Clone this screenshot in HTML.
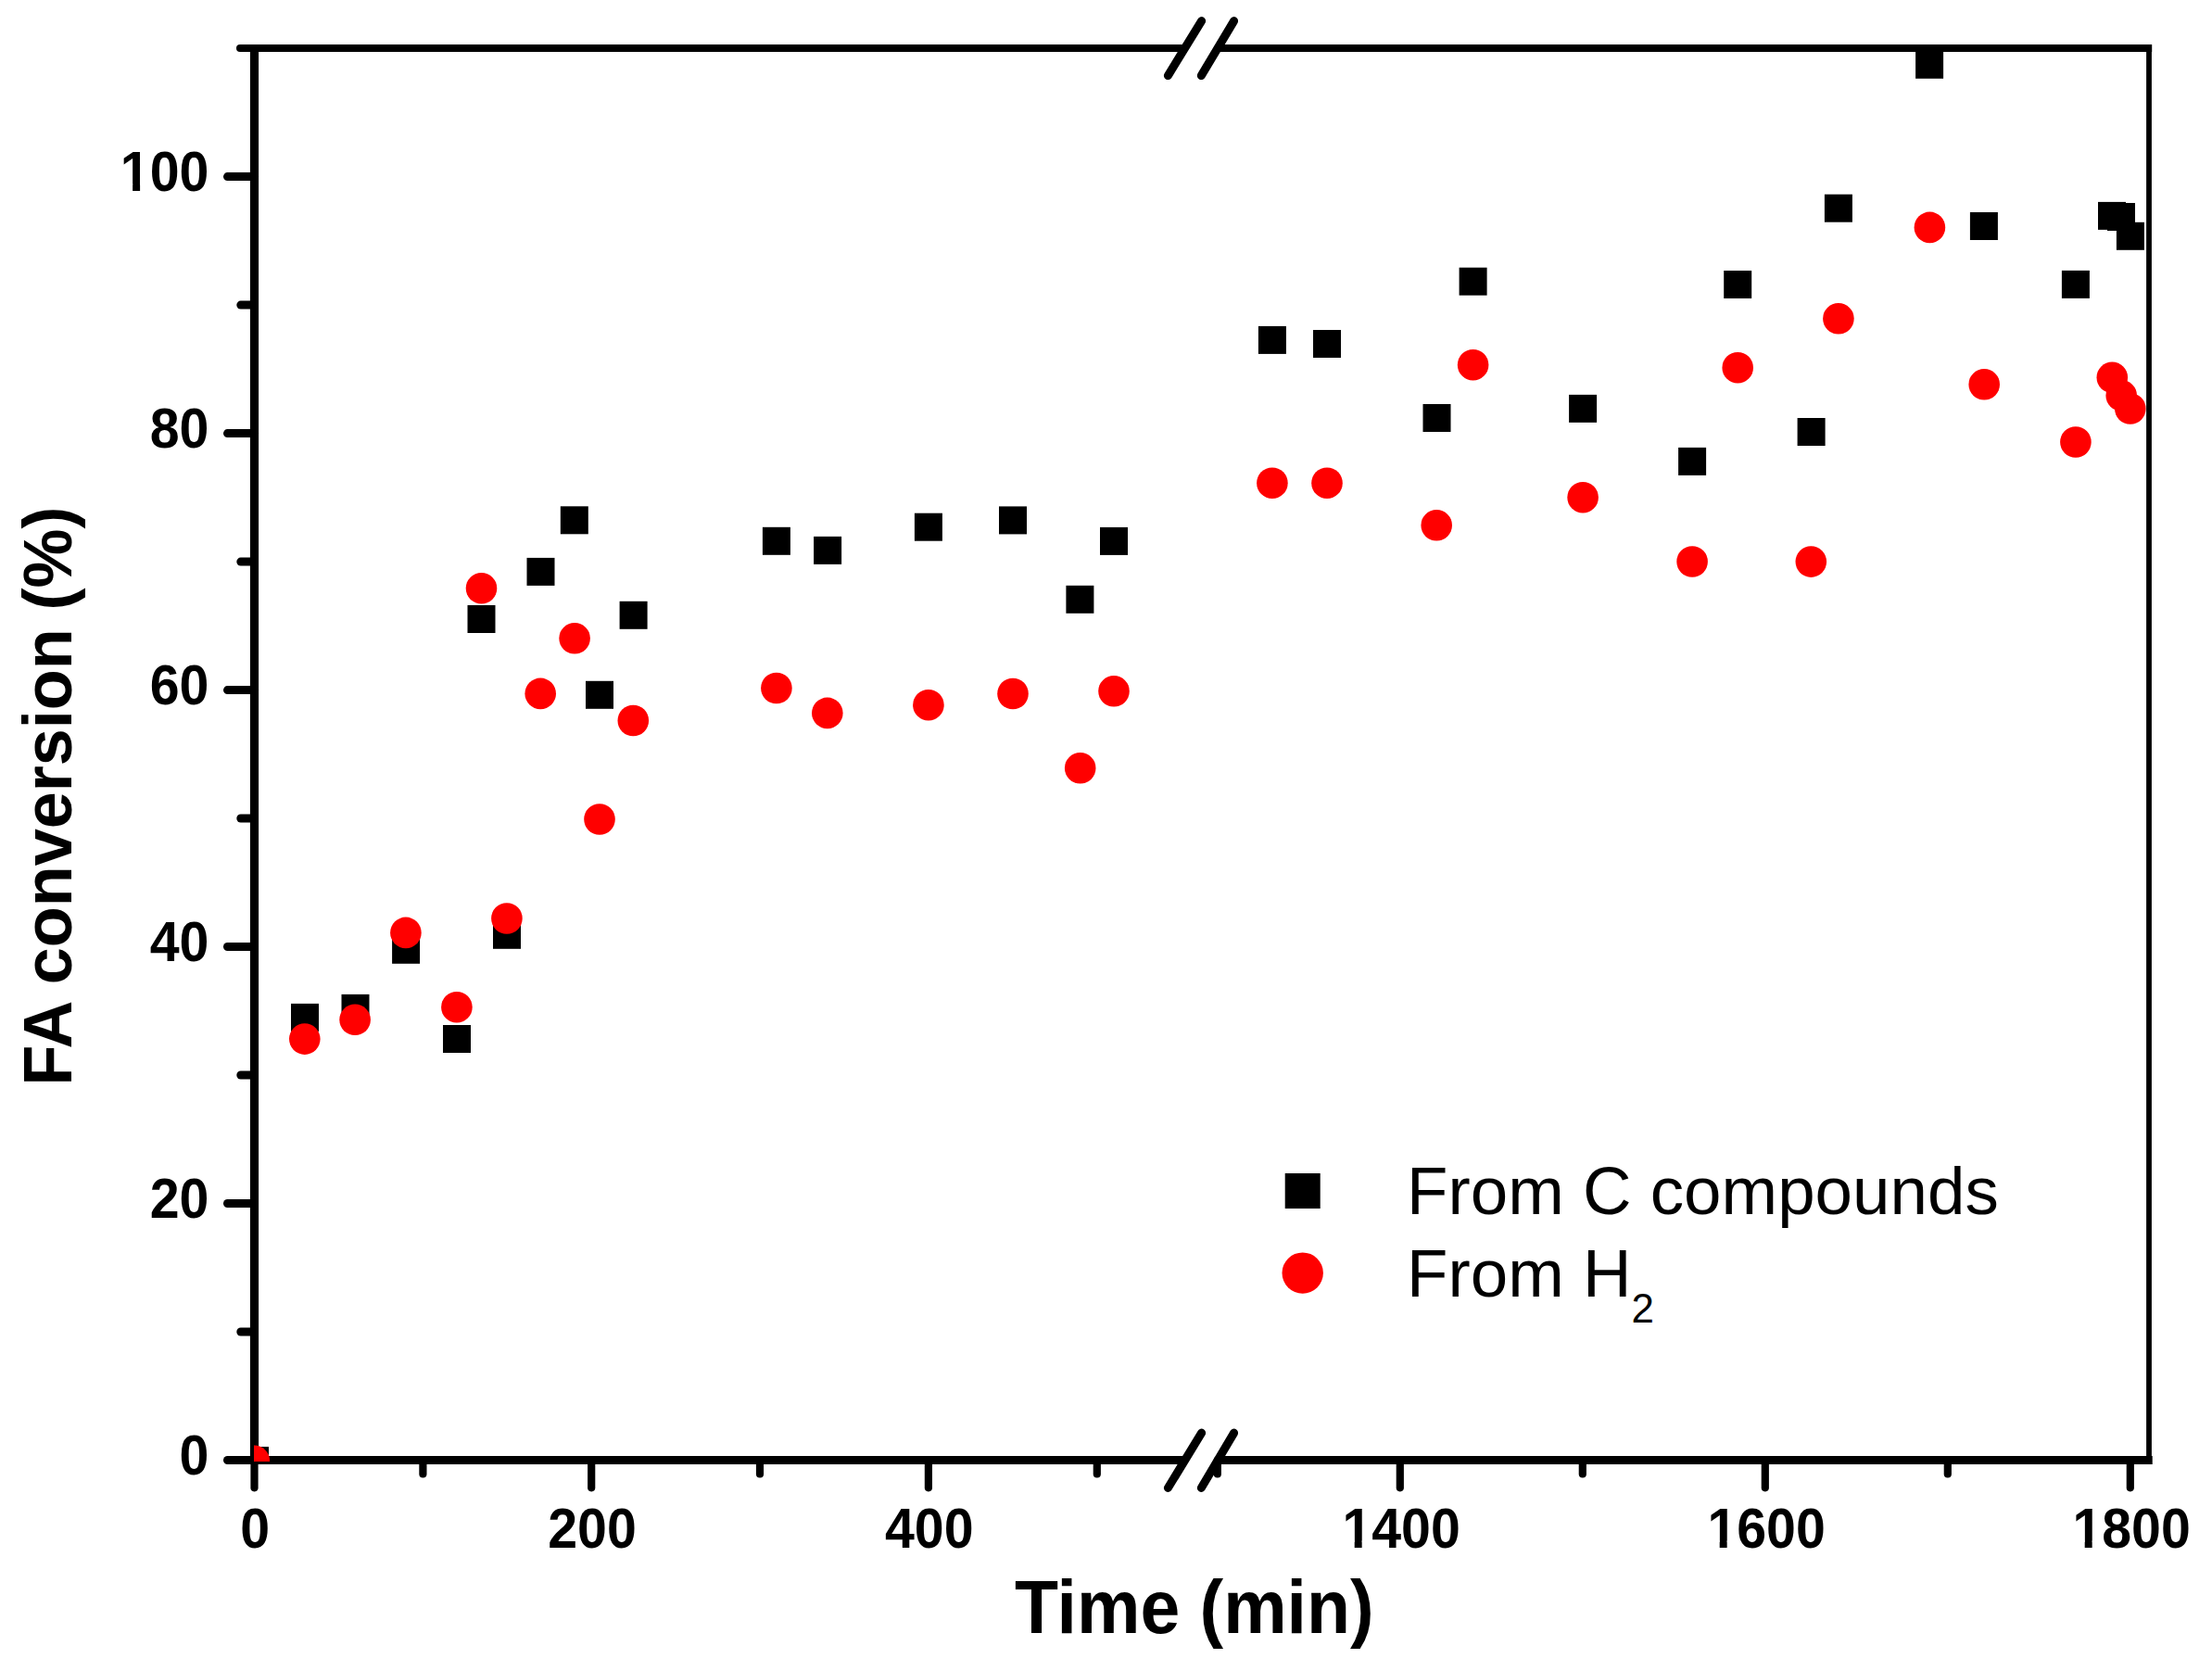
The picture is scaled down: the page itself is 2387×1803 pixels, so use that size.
<!DOCTYPE html>
<html lang="en"><head><meta charset="utf-8"><title>FA conversion vs time</title>
<style>html,body{margin:0;padding:0;background:#fff}body{width:2387px;height:1803px;overflow:hidden}svg{display:block}</style>
</head><body>
<svg width="2387" height="1803" viewBox="0 0 2387 1803">
<rect width="2387" height="1803" fill="#fff"/>
<g stroke="#000" stroke-linecap="round" fill="none">
<g stroke-width="9">
<line x1="245.5" y1="1575.5" x2="274.5" y2="1575.5"/>
<line x1="245.5" y1="1298.5" x2="274.5" y2="1298.5"/>
<line x1="245.5" y1="1021.5" x2="274.5" y2="1021.5"/>
<line x1="245.5" y1="744.6" x2="274.5" y2="744.6"/>
<line x1="245.5" y1="467.6" x2="274.5" y2="467.6"/>
<line x1="245.5" y1="190.6" x2="274.5" y2="190.6"/>
<line x1="259.8" y1="1437.0" x2="274.5" y2="1437.0"/>
<line x1="259.8" y1="1160.0" x2="274.5" y2="1160.0"/>
<line x1="259.8" y1="883.0" x2="274.5" y2="883.0"/>
<line x1="259.8" y1="606.1" x2="274.5" y2="606.1"/>
<line x1="259.8" y1="329.1" x2="274.5" y2="329.1"/>
<g stroke-width="8.2">
<line x1="274.5" y1="1575.5" x2="274.5" y2="1605.3"/>
<line x1="638.2" y1="1575.5" x2="638.2" y2="1605.3"/>
<line x1="1001.9" y1="1575.5" x2="1001.9" y2="1605.3"/>
<line x1="456.4" y1="1575.5" x2="456.4" y2="1590.5"/>
<line x1="820.0" y1="1575.5" x2="820.0" y2="1590.5"/>
<line x1="1183.8" y1="1575.5" x2="1183.8" y2="1590.5"/>
<line x1="1510.8" y1="1575.5" x2="1510.8" y2="1605.3"/>
<line x1="1904.8" y1="1575.5" x2="1904.8" y2="1605.3"/>
<line x1="2298.8" y1="1575.5" x2="2298.8" y2="1605.3"/>
<line x1="1313.8" y1="1575.5" x2="1313.8" y2="1590.5"/>
<line x1="1707.8" y1="1575.5" x2="1707.8" y2="1590.5"/>
<line x1="2101.8" y1="1575.5" x2="2101.8" y2="1590.5"/>
</g>
<line x1="1260.4" y1="81.6" x2="1296.6" y2="22.6"/>
<line x1="1296.3" y1="81.6" x2="1331.6" y2="22.6"/>
<line x1="1260.4" y1="1605.5" x2="1296.6" y2="1546.1"/>
<line x1="1296.3" y1="1605.5" x2="1331.6" y2="1546.1"/>
</g>
<g stroke-linecap="butt">
<line x1="274.5" y1="52.0" x2="274.5" y2="1575.5" stroke-width="9.2"/>
<line x1="274.5" y1="1575.5" x2="1278.6" y2="1575.5" stroke-width="8.8"/>
<line x1="1314" y1="1575.5" x2="2322.7" y2="1575.5" stroke-width="8.8"/>
<line x1="259" y1="52.0" x2="1278.6" y2="52.0" stroke-width="8"/>
<line x1="1314" y1="52.0" x2="2322.2" y2="52.0" stroke-width="8"/>
<line x1="2319.0" y1="52.0" x2="2319.0" y2="1575.5" stroke-width="5.8"/>
</g>
<circle cx="259" cy="52.0" r="4" fill="#000" stroke="none"/>
</g>
<clipPath id="pc"><rect x="274" y="40" width="2046" height="1537"/></clipPath>
<g clip-path="url(#pc)">
<g fill="#000">
<rect x="260.0" y="1561.0" width="30" height="30"/>
<rect x="314.0" y="1082.9" width="30" height="30"/>
<rect x="368.5" y="1072.9" width="30" height="30"/>
<rect x="423.1" y="1009.8" width="30" height="30"/>
<rect x="478.0" y="1106.0" width="30" height="30"/>
<rect x="504.5" y="653.0" width="30" height="30"/>
<rect x="532.0" y="993.8" width="30" height="30"/>
<rect x="568.5" y="601.9" width="30" height="30"/>
<rect x="604.8" y="546.3" width="30" height="30"/>
<rect x="632.0" y="734.8" width="30" height="30"/>
<rect x="668.6" y="648.8" width="30" height="30"/>
<rect x="822.9" y="568.8" width="30" height="30"/>
<rect x="878.1" y="578.9" width="30" height="30"/>
<rect x="986.9" y="553.7" width="30" height="30"/>
<rect x="1078.0" y="546.4" width="30" height="30"/>
<rect x="1150.4" y="631.8" width="30" height="30"/>
<rect x="1187.0" y="568.9" width="30" height="30"/>
<rect x="1357.9" y="351.9" width="30" height="30"/>
<rect x="1417.0" y="356.0" width="30" height="30"/>
<rect x="1535.5" y="436.0" width="30" height="30"/>
<rect x="1574.6" y="288.7" width="30" height="30"/>
<rect x="1693.1" y="425.9" width="30" height="30"/>
<rect x="1811.1" y="482.9" width="30" height="30"/>
<rect x="1860.2" y="292.0" width="30" height="30"/>
<rect x="1939.6" y="451.0" width="30" height="30"/>
<rect x="1968.9" y="209.7" width="30" height="30"/>
<rect x="2067.1" y="54.8" width="30" height="30"/>
<rect x="2125.9" y="229.0" width="30" height="30"/>
<rect x="2224.9" y="291.9" width="30" height="30"/>
<rect x="2264.0" y="217.9" width="30" height="30"/>
<rect x="2274.0" y="219.0" width="30" height="30"/>
<rect x="2283.9" y="239.8" width="30" height="30"/>
</g><g fill="#f00">
<circle cx="274.3" cy="1576.3" r="16.8"/>
<circle cx="328.8" cy="1121.1" r="16.8"/>
<circle cx="383.1" cy="1100.3" r="16.8"/>
<circle cx="437.9" cy="1006.4" r="16.8"/>
<circle cx="492.9" cy="1086.7" r="16.8"/>
<circle cx="519.5" cy="634.8" r="16.8"/>
<circle cx="546.9" cy="991.0" r="16.8"/>
<circle cx="583.2" cy="748.4" r="16.8"/>
<circle cx="620.1" cy="688.8" r="16.8"/>
<circle cx="647.0" cy="884.0" r="16.8"/>
<circle cx="683.3" cy="777.5" r="16.8"/>
<circle cx="837.9" cy="742.5" r="16.8"/>
<circle cx="892.8" cy="769.4" r="16.8"/>
<circle cx="1001.9" cy="760.7" r="16.8"/>
<circle cx="1093.0" cy="748.5" r="16.8"/>
<circle cx="1165.7" cy="828.8" r="16.8"/>
<circle cx="1202.0" cy="745.8" r="16.8"/>
<circle cx="1372.9" cy="521.2" r="16.8"/>
<circle cx="1432.0" cy="521.2" r="16.8"/>
<circle cx="1550.2" cy="566.8" r="16.8"/>
<circle cx="1589.6" cy="393.7" r="16.8"/>
<circle cx="1708.1" cy="536.7" r="16.8"/>
<circle cx="1826.1" cy="606.0" r="16.8"/>
<circle cx="1875.2" cy="396.7" r="16.8"/>
<circle cx="1954.3" cy="606.1" r="16.8"/>
<circle cx="1983.9" cy="343.8" r="16.8"/>
<circle cx="2082.4" cy="245.4" r="16.8"/>
<circle cx="2141.2" cy="414.8" r="16.8"/>
<circle cx="2239.9" cy="477.0" r="16.8"/>
<circle cx="2279.3" cy="407.3" r="16.8"/>
<circle cx="2289.2" cy="426.8" r="16.8"/>
<circle cx="2298.8" cy="441.0" r="16.8"/>
</g></g>
<rect x="1386.7" y="1266" width="38" height="38" fill="#000"/>
<circle cx="1405.7" cy="1373.6" r="22.2" fill="#f00"/>
<g font-family="'Liberation Sans', sans-serif" fill="#000">
<clipPath id="c3e"><rect x="-118.44" y="-60" width="260" height="52.68"/><rect x="-84.72" y="-7.82" width="8.20" height="12"/><rect x="-65.63" y="-7.82" width="200" height="12"/></clipPath>
<clipPath id="c4m"><rect x="-85.63" y="-60" width="260" height="52.68"/><rect x="-51.91" y="-7.82" width="8.20" height="12"/><rect x="-32.81" y="-7.82" width="200" height="12"/></clipPath>
<text font-size="59" font-weight="bold" text-anchor="end" transform="translate(225.4,1590.5) scale(0.971,1.049)">0</text>
<text font-size="59" font-weight="bold" text-anchor="end" transform="translate(225.4,1313.5) scale(0.971,1.049)">20</text>
<text font-size="59" font-weight="bold" text-anchor="end" transform="translate(225.4,1036.5) scale(0.971,1.049)">40</text>
<text font-size="59" font-weight="bold" text-anchor="end" transform="translate(225.4,759.6) scale(0.971,1.049)">60</text>
<text font-size="59" font-weight="bold" text-anchor="end" transform="translate(225.4,482.6) scale(0.971,1.049)">80</text>
<text font-size="59" font-weight="bold" text-anchor="end" transform="translate(225.4,205.6) scale(0.971,1.049)" clip-path="url(#c3e)">100</text>
<text font-size="59" font-weight="bold" text-anchor="middle" transform="translate(275.3,1670.2) scale(0.971,1.049)">0</text>
<text font-size="59" font-weight="bold" text-anchor="middle" transform="translate(639.0,1670.2) scale(0.971,1.049)">200</text>
<text font-size="59" font-weight="bold" text-anchor="middle" transform="translate(1002.7,1670.2) scale(0.971,1.049)">400</text>
<text font-size="59" font-weight="bold" text-anchor="middle" transform="translate(1512.1,1670.2) scale(0.971,1.049)" clip-path="url(#c4m)">1400</text>
<text font-size="59" font-weight="bold" text-anchor="middle" transform="translate(1906.1,1670.2) scale(0.971,1.049)" clip-path="url(#c4m)">1600</text>
<text font-size="59" font-weight="bold" text-anchor="middle" transform="translate(2300.1,1670.2) scale(0.971,1.049)" clip-path="url(#c4m)">1800</text>
<text font-size="80" font-weight="bold" transform="translate(1095.0,1762.2) scale(0.962,1.022)">Time (min)</text>
<text font-size="73" font-weight="bold" transform="translate(77.1,1171.4) rotate(-90) scale(0.9855,1.028)">FA conversion (%)</text>
<text font-size="72.75" transform="translate(1518.1,1310.3) scale(1,1.003)">From C compounds</text>
<text font-size="72.75" transform="translate(1518.1,1399.0) scale(1,1.003)">From H<tspan font-size="44" dy="28">2</tspan></text>
</g>
</svg>
</body></html>
